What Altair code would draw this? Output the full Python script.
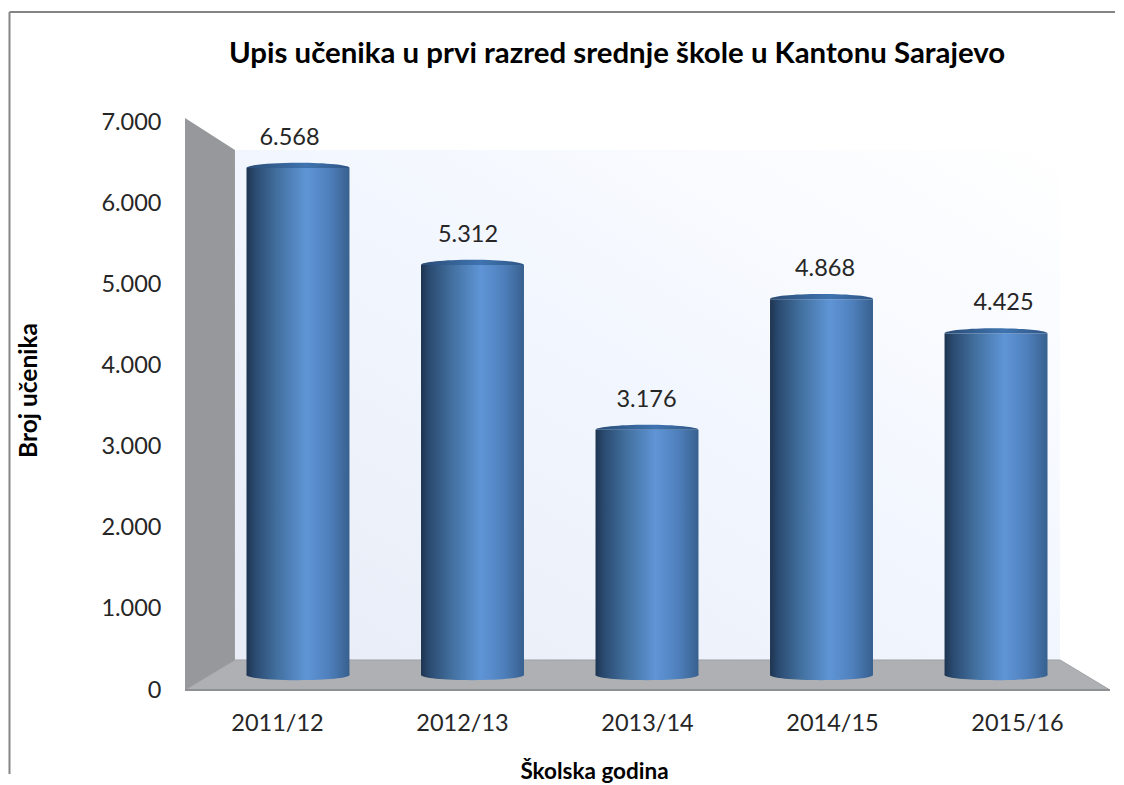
import altair as alt
import pandas as pd

years = ["2011/12", "2012/13", "2013/14", "2014/15", "2015/16"]
values = [6568, 5312, 3176, 4868, 4425]
value_labels = ["6.568", "5.312", "3.176", "4.868", "4.425"]
title_text = "Upis učenika u prvi razred srednje škole u Kantonu Sarajevo"
x_title = "Školska godina"
y_title = "Broj učenika"
FONT = "Lato"

df = pd.DataFrame({"year": years, "value": values, "label": value_labels, "base": [0] * 5})

# 3D box drawn in axis units (x: share of the plot width, y: axis value)
floor = pd.DataFrame({"fx": [0, 0.054, 0.946, 1.0], "fy": [0, 370, 370, 0], "fy2": [0, 0, 0, 0]})
wall = pd.DataFrame({"fx": [0, 0.054], "fy": [7050, 6655], "fy2": [0, 370]})
back = pd.DataFrame({"fx": [0.054], "fx2": [0.946], "fy": [6655], "fy2": [370]})
one = pd.DataFrame({"a": [0]})

fx_scale = alt.Scale(domain=[0, 1], range=[0, 925])
axis_y = alt.Scale(domain=[0, 7000], nice=False)
bar_y = alt.Scale(domain=[-194, 7163], nice=False)
bar_x = alt.Scale(type="band", domain=years, range=[61.5, 862.5], paddingInner=0.41, paddingOuter=0)
label_x = alt.Scale(type="point", domain=years, range=[104.5, 818.5], padding=0)


def hgrad(stops):
    return alt.LinearGradient(
        gradient="linear", x1=0, x2=1, y1=0, y2=0,
        stops=[alt.GradientStop(offset=o, color=c) for o, c in stops],
    )


side = [(0, "#1e3450"), (0.08, "#2a4a70"), (0.3, "#42709f"), (0.58, "#5f95d6"), (0.8, "#4f80bd"), (1, "#37608e")]
cap = [(0, "#2a4c76"), (0.58, "#3f74b0"), (1, "#2f5585")]
ELLIPSE = "M-1,0A1,0.1 0 1,1 1,0A1,0.1 0 1,1 -1,0Z"
DOME = "M-1,0A1,0.1 0 0,1 1,0Z"

back_wall = alt.Chart(back).mark_rect(
    fill=alt.LinearGradient(
        gradient="linear", x1=0, y1=1, x2=1, y2=0,
        stops=[alt.GradientStop(offset=0, color="#e7ecf6"), alt.GradientStop(offset=0.45, color="#f0f5fe"),
               alt.GradientStop(offset=1, color="#ffffff")],
    )
).encode(
    x=alt.X("fx:Q", scale=fx_scale, axis=None), x2="fx2:Q",
    y=alt.Y("fy:Q", scale=axis_y, axis=None), y2="fy2:Q",
)

floor_layer = alt.Chart(floor).mark_area(color="#aeb0b3", stroke="#a0a2a5", strokeWidth=1).encode(
    x=alt.X("fx:Q", scale=fx_scale, axis=None),
    y=alt.Y("fy:Q", scale=axis_y, axis=None), y2="fy2:Q",
)

wall_layer = alt.Chart(wall).mark_area(color="#97989b").encode(
    x=alt.X("fx:Q", scale=fx_scale, axis=None),
    y=alt.Y("fy:Q", scale=axis_y, axis=None), y2="fy2:Q",
)

front_edge = alt.Chart(floor.head(1)).mark_rule(color="#8f9092", strokeWidth=2).encode(
    x=alt.value(0), x2=alt.value(925),
    y=alt.Y("fy:Q", scale=axis_y, axis=None),
)

axes = alt.Chart(df).mark_bar(opacity=0).encode(
    x=alt.X("year:N", sort=years, scale=alt.Scale(type="band", domain=years, range=[0, 925]),
            axis=alt.Axis(title=x_title, labelAngle=0, domain=False, ticks=False, labelPadding=21,
                          labelFont=FONT, labelFontSize=23.5, labelColor="#262626",
                          titleFont=FONT, titleFontSize=22.5, titleFontWeight="bold", titleColor="#000000",
                          titleX=409, titleY=70)),
    y=alt.Y("value:Q", scale=axis_y,
            axis=alt.Axis(title=y_title, values=[0, 1000, 2000, 3000, 4000, 5000, 6000, 7000],
                          labelExpr="replace(format(datum.value, ','), ',', '.')",
                          domain=False, ticks=False, grid=False, labelPadding=24,
                          labelFont=FONT, labelFontSize=23.5, labelColor="#262626",
                          titleFont=FONT, titleFontSize=24.5, titleFontWeight="bold", titleColor="#000000",
                          titleX=-144, titleY=268)),
)

bottoms = alt.Chart(df).mark_point(filled=True, opacity=1, fill=hgrad(side), shape=ELLIPSE, size=103 ** 2).encode(
    x=alt.X("year:N", sort=years, scale=bar_x, axis=None),
    y=alt.Y("base:Q", scale=bar_y, axis=None),
)

bars = alt.Chart(df).mark_bar(fill=hgrad(side)).encode(
    x=alt.X("year:N", sort=years, scale=bar_x, axis=None),
    y=alt.Y("value:Q", scale=bar_y, axis=None),
    y2="base:Q",
)

tops = alt.Chart(df).mark_point(filled=True, opacity=1, fill=hgrad(cap), shape=DOME, size=103 ** 2).encode(
    x=alt.X("year:N", sort=years, scale=bar_x, axis=None),
    y=alt.Y("value:Q", scale=bar_y, axis=None),
)

labels = alt.Chart(df).mark_text(font=FONT, fontSize=23.5, color="#262626", baseline="middle", dy=-30).encode(
    x=alt.X("year:N", sort=years, scale=label_x, axis=None),
    y=alt.Y("value:Q", scale=bar_y, axis=None),
    text="label:N",
)

left_border = alt.Chart(one).mark_rule(color="#858585", strokeWidth=2).encode(
    x=alt.value(-175.5), y=alt.value(-110), y2=alt.value(652),
)
top_border = alt.Chart(one).mark_rule(color="#858585", strokeWidth=2).encode(
    x=alt.value(-175.5), x2=alt.value(930), y=alt.value(-110),
)

chart = (
    alt.layer(left_border, top_border, back_wall, floor_layer, wall_layer, front_edge, axes,
              bottoms, bars, tops, labels)
    .resolve_scale(x="independent", y="independent")
    .properties(
        width=925, height=568,
        padding={"left": 0, "top": 3, "right": 0, "bottom": 0},
        background="#ffffff",
        title=alt.TitleParams(title_text, font=FONT, fontSize=29.4, fontWeight="bold", color="#000000",
                              anchor="start", frame="group", dx=44, offset=-58),
    )
    .configure_view(stroke=None)
)

chart.save("out.html", embed_options={"renderer": "svg", "actions": False})
